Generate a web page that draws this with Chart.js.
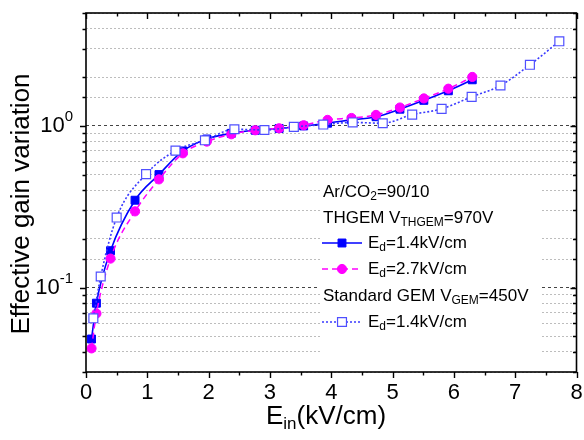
<!DOCTYPE html>
<html>
<head>
<meta charset="utf-8">
<script src="https://cdn.jsdelivr.net/npm/chart.js@4.4.0/dist/chart.umd.min.js"></script>
<style>
  html, body { margin: 0; padding: 0; background: #fff; }
  #wrap { width: 584px; height: 440px; }
</style>
</head>
<body>
<div id="wrap"><canvas id="gainChart" width="584" height="440"></canvas></div>
<script>
// Drift field scans, THGEM (two drift fields) and standard GEM
const einThgem = [0.09, 0.17, 0.40, 0.80, 1.19, 1.58, 1.97, 2.37, 2.76, 3.15, 3.55, 3.94, 4.33, 4.73, 5.12, 5.51, 5.91, 6.30];
const gainThgem14 = [0.048, 0.080, 0.169, 0.347, 0.50, 0.70, 0.83, 0.90, 0.94, 0.965, 1.0, 1.04, 1.09, 1.14, 1.27, 1.44, 1.65, 1.93];
const gainThgem27 = [0.042, 0.069, 0.151, 0.296, 0.467, 0.677, 0.80, 0.888, 0.94, 0.967, 1.01, 1.09, 1.12, 1.17, 1.30, 1.48, 1.70, 2.01];
const einGem = [0.12, 0.24, 0.50, 0.98, 1.46, 1.94, 2.42, 2.91, 3.39, 3.87, 4.35, 4.84, 5.32, 5.80, 6.29, 6.76, 7.24, 7.72];
const gainGem14 = [0.0645, 0.117, 0.271, 0.503, 0.703, 0.815, 0.954, 0.944, 0.986, 1.02, 1.051, 1.039, 1.175, 1.275, 1.514, 1.779, 2.39, 3.34];

const xTickLabels = ['0', '1', '2', '3', '4', '5', '6', '7', '8'];
const yTickLabels = [{ value: 0.1, exp: '-1' }, { value: 1, exp: '0' }];

const FONT = '"Liberation Sans", Arial, sans-serif';
const BLUE = '#0000ff';
const MAGENTA = '#ff00ff';
const LIGHTBLUE = '#3a3aff';

function pts(xs, ys) {
  return xs.map((x, i) => ({ x: x, y: ys[i] }));
}

function isDecade(v) {
  const l = Math.log10(v);
  return Math.abs(l - Math.round(l)) < 1e-6;
}

// text with sub/superscript pieces: [text, size, dy]
function drawRich(ctx, parts, x, y) {
  let cx = x;
  parts.forEach(p => {
    ctx.font = p[1] + 'px ' + FONT;
    ctx.fillText(p[0], cx, y + (p[2] || 0));
    cx += ctx.measureText(p[0]).width;
  });
  return cx;
}

function richWidth(ctx, parts) {
  let w = 0;
  parts.forEach(p => {
    ctx.font = p[1] + 'px ' + FONT;
    w += ctx.measureText(p[0]).width;
  });
  return w;
}

const legendBox = { left: 320, top: 179, right: 542, bottom: 361 };

const framePlugin = {
  id: 'frame',
  beforeDatasetsDraw(chart) {
    // blank out the grid behind the legend
    const ctx = chart.ctx;
    ctx.save();
    ctx.fillStyle = '#fff';
    ctx.fillRect(legendBox.left, legendBox.top, legendBox.right - legendBox.left, legendBox.bottom - legendBox.top);
    ctx.restore();
  },
  afterDraw(chart) {
    const ctx = chart.ctx;
    const a = chart.chartArea;
    const xs = chart.scales.x;
    const ys = chart.scales.y;
    ctx.save();

    // frame
    ctx.strokeStyle = '#000';
    ctx.lineWidth = 1.6;
    ctx.strokeRect(a.left, a.top, a.right - a.left, a.bottom - a.top);

    // x ticks: out at the bottom, in at the top
    ctx.lineWidth = 1.4;
    ctx.beginPath();
    for (let v = 0; v <= 8; v += 0.5) {
      const px = Math.round(xs.getPixelForValue(v)) + 0.5;
      const len = (v % 1 === 0) ? 6 : 3.5;
      ctx.moveTo(px, a.bottom); ctx.lineTo(px, a.bottom + len);
      ctx.moveTo(px, a.top); ctx.lineTo(px, a.top + len);
    }
    // y ticks: out on the left, in on the right
    ys.ticks.forEach(t => {
      const py = Math.round(ys.getPixelForValue(t.value)) + 0.5;
      const len = isDecade(t.value) ? 6 : 3.5;
      ctx.moveTo(a.left, py); ctx.lineTo(a.left - len, py);
      ctx.moveTo(a.right, py); ctx.lineTo(a.right - len, py);
    });
    ctx.stroke();

    ctx.fillStyle = '#000';
    ctx.textBaseline = 'middle';

    // x tick labels
    ctx.textAlign = 'center';
    ctx.font = '22px ' + FONT;
    xTickLabels.forEach(l => {
      ctx.fillText(l, xs.getPixelForValue(Number(l)), 393);
    });

    // y tick labels as powers of ten
    ctx.textAlign = 'left';
    yTickLabels.forEach(t => {
      const py = ys.getPixelForValue(t.value);
      const parts = [['10', 22, 0], [t.exp, 15, -9]];
      const w = richWidth(ctx, parts);
      drawRich(ctx, parts, 73 - w, py);
    });

    // axis titles
    drawRich(ctx, [['E', 26, 0], ['in', 17, 7], ['(kV/cm)', 26, 0]], 266, 417);
    ctx.save();
    ctx.translate(22, 204);
    ctx.rotate(-Math.PI / 2);
    ctx.textAlign = 'center';
    ctx.font = '26px ' + FONT;
    ctx.fillText('Effective gain variation', 0, 0);
    ctx.restore();

    // legend
    ctx.textAlign = 'left';
    const tx = 323;
    drawRich(ctx, [['Ar/CO', 17, 0], ['2', 12, 5], ['=90/10', 17, 0]], tx, 192);
    drawRich(ctx, [['THGEM V', 17, 0], ['THGEM', 12, 5], ['=970V', 17, 0]], tx, 218);
    drawRich(ctx, [['Standard GEM V', 17, 0], ['GEM', 12, 5], ['=450V', 17, 0]], tx, 296);

    const rows = [[2, 243], [1, 269], [0, 322]];
    rows.forEach(r => {
      const ds = chart.data.datasets[r[0]];
      const y = r[1];
      ctx.save();
      ctx.strokeStyle = ds.borderColor;
      ctx.lineWidth = ds.borderWidth;
      ctx.setLineDash(ds.borderDash || []);
      ctx.beginPath();
      ctx.moveTo(322, y); ctx.lineTo(362, y);
      ctx.stroke();
      ctx.setLineDash([]);
      ctx.fillStyle = ds.pointBackgroundColor;
      ctx.strokeStyle = ds.pointBorderColor;
      ctx.lineWidth = ds.pointBorderWidth;
      Chart.helpers.drawPoint(ctx, {
        pointStyle: ds.pointStyle,
        radius: ds.pointRadius,
        borderWidth: ds.pointBorderWidth
      }, 342, y);
      ctx.restore();
      ctx.fillStyle = '#000';
      drawRich(ctx, [['E', 17, 0], ['d', 12, 5], ['=' + ds.fieldLabel, 17, 0]], 368, y);
    });

    ctx.restore();
  }
};

new Chart(document.getElementById('gainChart'), {
  type: 'line',
  data: {
    datasets: [
      {
        label: 'Standard GEM',
        fieldLabel: '1.4kV/cm',
        data: pts(einGem, gainGem14),
        borderColor: LIGHTBLUE,
        borderWidth: 1.6,
        borderDash: [2, 2],
        pointStyle: 'rect',
        pointRadius: 6.3,
        pointBackgroundColor: '#fff',
        pointBorderColor: '#4f4fff',
        pointBorderWidth: 1.2,
        cubicInterpolationMode: 'monotone',
        fill: false
      },
      {
        label: 'THGEM 2.7',
        fieldLabel: '2.7kV/cm',
        data: pts(einThgem, gainThgem27),
        borderColor: MAGENTA,
        borderWidth: 1.5,
        borderDash: [6, 4],
        pointStyle: 'circle',
        pointRadius: 4.6,
        pointBackgroundColor: MAGENTA,
        pointBorderColor: MAGENTA,
        pointBorderWidth: 1,
        cubicInterpolationMode: 'monotone',
        fill: false
      },
      {
        label: 'THGEM 1.4',
        fieldLabel: '1.4kV/cm',
        data: pts(einThgem, gainThgem14),
        borderColor: BLUE,
        borderWidth: 1.6,
        borderDash: [],
        pointStyle: 'rect',
        pointRadius: 5.6,
        pointBackgroundColor: BLUE,
        pointBorderColor: BLUE,
        pointBorderWidth: 1,
        cubicInterpolationMode: 'monotone',
        fill: false
      }
    ]
  },
  options: {
    responsive: false,
    animation: false,
    events: [],
    layout: { padding: { left: 86, top: 13, right: 4, bottom: 68 } },
    plugins: { legend: { display: false }, tooltip: { enabled: false } },
    scales: {
      x: {
        type: 'linear',
        min: 0,
        max: 8,
        grid: { display: false, drawTicks: false },
        border: { display: false },
        ticks: { display: false, stepSize: 0.5 }
      },
      y: {
        type: 'logarithmic',
        min: 0.03,
        max: 5,
        grid: {
          drawTicks: false,
          lineWidth: 1,
          color: ctx => isDecade(ctx.tick.value) ? '#444' : '#bdbdbd'
        },
        border: {
          display: false,
          dash: ctx => isDecade(ctx.tick.value) ? [3, 3] : [2, 2]
        },
        ticks: { display: false }
      }
    }
  },
  plugins: [framePlugin]
});
</script>
</body>
</html>
